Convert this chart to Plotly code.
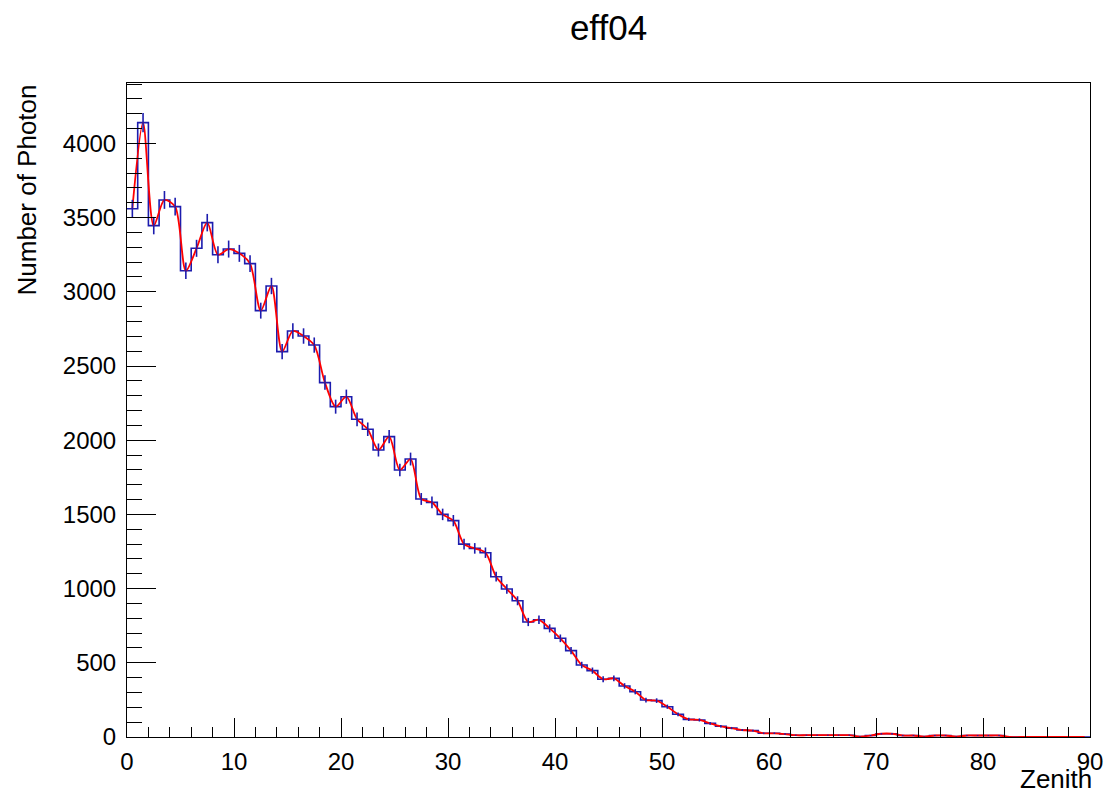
import numpy as np
import plotly.graph_objects as go

# Histogram: 90 bins of width 1 over Zenith 0..90
bin_edges = list(range(0, 91))
counts = [
    3560, 4140, 3446, 3619, 3574, 3142, 3293, 3466, 3250, 3288,
    3259, 3190, 2873, 3039, 2597, 2736, 2702, 2641, 2388, 2226,
    2293, 2141, 2074, 1934, 2024, 1799, 1873, 1604, 1581, 1500,
    1458, 1300, 1271, 1242, 1080, 997, 918, 775, 790, 732,
    665, 582, 485, 447, 389, 395, 344, 305, 249, 245,
    204, 153, 119, 115, 92, 72, 60, 47, 43, 25,
    25, 20, 12, 12, 12, 12, 12, 12, 3, 10,
    22, 22, 10, 10, 3, 10, 10, 3, 10, 10,
    10, 10, 0, 0, 0, 0, 0, 0, 0, 0,
]
title_text = "eff04"
x_title = "Zenith"
y_title = "Number of Photon"

centers = [(a + b) / 2 for a, b in zip(bin_edges[:-1], bin_edges[1:])]
errors = [float(np.sqrt(c)) for c in counts]

BLUE = "#1c1cae"
RED = "#ff0000"
FONT = "Liberation Sans"

fig = go.Figure()

# stepped outline
fig.add_trace(go.Scatter(
    x=bin_edges, y=counts + [counts[-1]], mode="lines",
    line=dict(color=BLUE, width=1.6, shape="hv"), hoverinfo="skip",
    showlegend=False,
))
# smooth red curve through bin centres
fig.add_trace(go.Scatter(
    x=centers, y=counts, mode="lines",
    line=dict(color=RED, width=1.8, shape="spline", smoothing=0.8),
    showlegend=False,
))
# error bars
fig.add_trace(go.Scatter(
    x=centers, y=counts, mode="markers",
    marker=dict(size=1, color=BLUE, opacity=0),
    error_y=dict(type="data", array=errors, visible=True, color=BLUE,
                 thickness=1.6, width=0),
    showlegend=False,
))

W, H = 1104, 796
fig.update_layout(
    width=W, height=H,
    margin=dict(l=127, r=14, t=83, b=59, autoexpand=False),
    paper_bgcolor="white", plot_bgcolor="white",
    font=dict(family=FONT, size=24, color="black"),
    title=dict(text=title_text, x=0.5, xref="paper", xanchor="center",
               y=1 - 28 / H, yref="container", yanchor="middle",
               font=dict(size=35, family=FONT, color="black")),
    xaxis=dict(range=[0, 90], showgrid=False, zeroline=False,
               showline=True, linecolor="black", linewidth=1, mirror=True,
               ticks="inside", ticklen=19, tickcolor="black", tickwidth=1,
               dtick=10, tick0=0, ticklabelstandoff=3,
               ticklabeloverflow="allow",
               minor=dict(ticks="inside", ticklen=10, dtick=2, tickcolor="black",
                          showgrid=False),
               tickfont=dict(size=24, family=FONT)),
    yaxis=dict(range=[0, 4407], showgrid=False, zeroline=False,
               showline=True, linecolor="black", linewidth=1, mirror=True,
               ticks="inside", ticklen=29, tickcolor="black", tickwidth=1,
               dtick=500, tick0=0, ticklabelstandoff=5,
               minor=dict(ticks="inside", ticklen=15, dtick=100, tickcolor="black",
                          showgrid=False),
               tickfont=dict(size=24, family=FONT)),
    annotations=[
        dict(text=x_title, xref="paper", yref="paper", x=(1094 - 127) / 963,
             y=(737 - 796) / 654,
             xanchor="right", yanchor="bottom", showarrow=False,
             font=dict(size=26, family=FONT)),
        dict(text=y_title, xref="paper", yref="paper", x=(26 - 127) / 963, y=1.0,
             xanchor="center", yanchor="top", textangle=-90, showarrow=False,
             font=dict(size=26, family=FONT)),
    ],
)

# remove the default page margin so the figure fills the window exactly
fig.write_html(
    "out.html",
    config={"displayModeBar": False},
    post_script="document.body.style.margin='0';document.body.style.overflow='hidden';",
)
